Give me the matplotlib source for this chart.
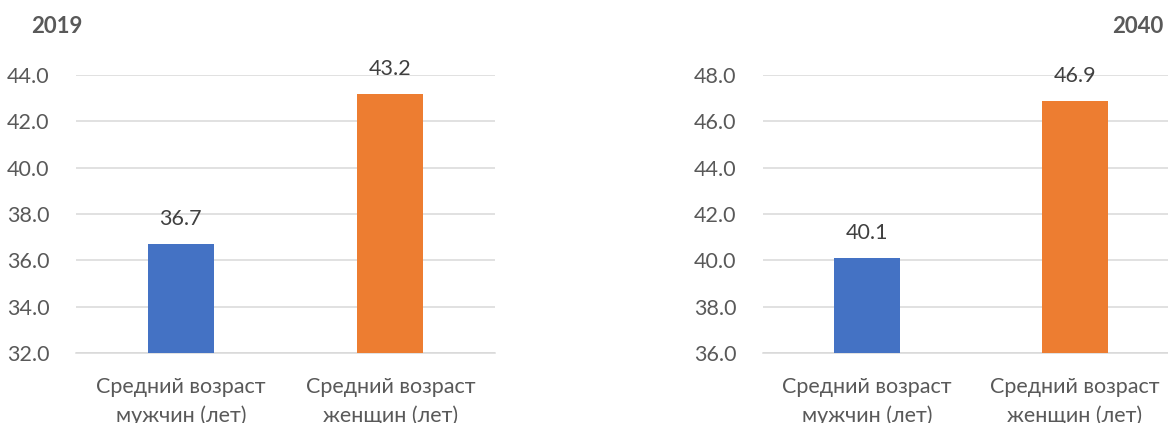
import matplotlib.pyplot as plt

plt.rcParams['font.family'] = ['Lato', 'DejaVu Sans']

# data
categories = ['Средний возраст\nмужчин (лет)', 'Средний возраст\nженщин (лет)']
values_2019 = [36.7, 43.2]
values_2040 = [40.1, 46.9]
colors = ['#4472C4', '#ED7D31']

fig = plt.figure(figsize=(11.68, 4.23), dpi=100)

def draw(ax, vals, ylim):
    x = range(len(vals))
    ax.bar(x, vals, width=0.315, color=colors, zorder=3)
    ax.set_xlim(-0.5, 1.5)
    ax.set_ylim(ylim[0], ylim[1])
    ax.set_yticks([ylim[0] + 2 * i for i in range(7)])
    ax.yaxis.set_major_formatter(plt.FuncFormatter(lambda v, p: '%.1f' % v))
    ax.grid(axis='y', color='#d9d9d9', linewidth=1.1, zorder=0)
    for s in ['top', 'right', 'left']:
        ax.spines[s].set_visible(False)
    ax.spines['bottom'].set_color('#d9d9d9')
    ax.spines['bottom'].set_linewidth(1.1)
    ax.set_xticks(list(x))
    ax.set_xticklabels(categories, linespacing=1.55)
    ax.tick_params(axis='y', length=0, pad=19, labelsize=15.5, labelcolor='#595959')
    ax.tick_params(axis='x', length=0, pad=17, labelsize=15.5, labelcolor='#595959')
    for i, v in enumerate(vals):
        ax.annotate('%.1f' % v, (i, v), xytext=(0, 18), textcoords='offset points',
                    ha='center', va='center', fontsize=15.5, color='#404040')

ax1 = fig.add_axes([0.0651, 0.1655, 0.3587, 0.657])
draw(ax1, values_2019, (32, 44))
ax2 = fig.add_axes([0.6533, 0.1655, 0.356, 0.657])
draw(ax2, values_2040, (36, 48))

fig.text(0.049, 0.937, '2019', fontsize=16, fontweight='bold', color='#595959',
         ha='center', va='center')
fig.text(0.974, 0.937, '2040', fontsize=16, fontweight='bold', color='#595959',
         ha='center', va='center')

fig.savefig('out.png', dpi=100)
